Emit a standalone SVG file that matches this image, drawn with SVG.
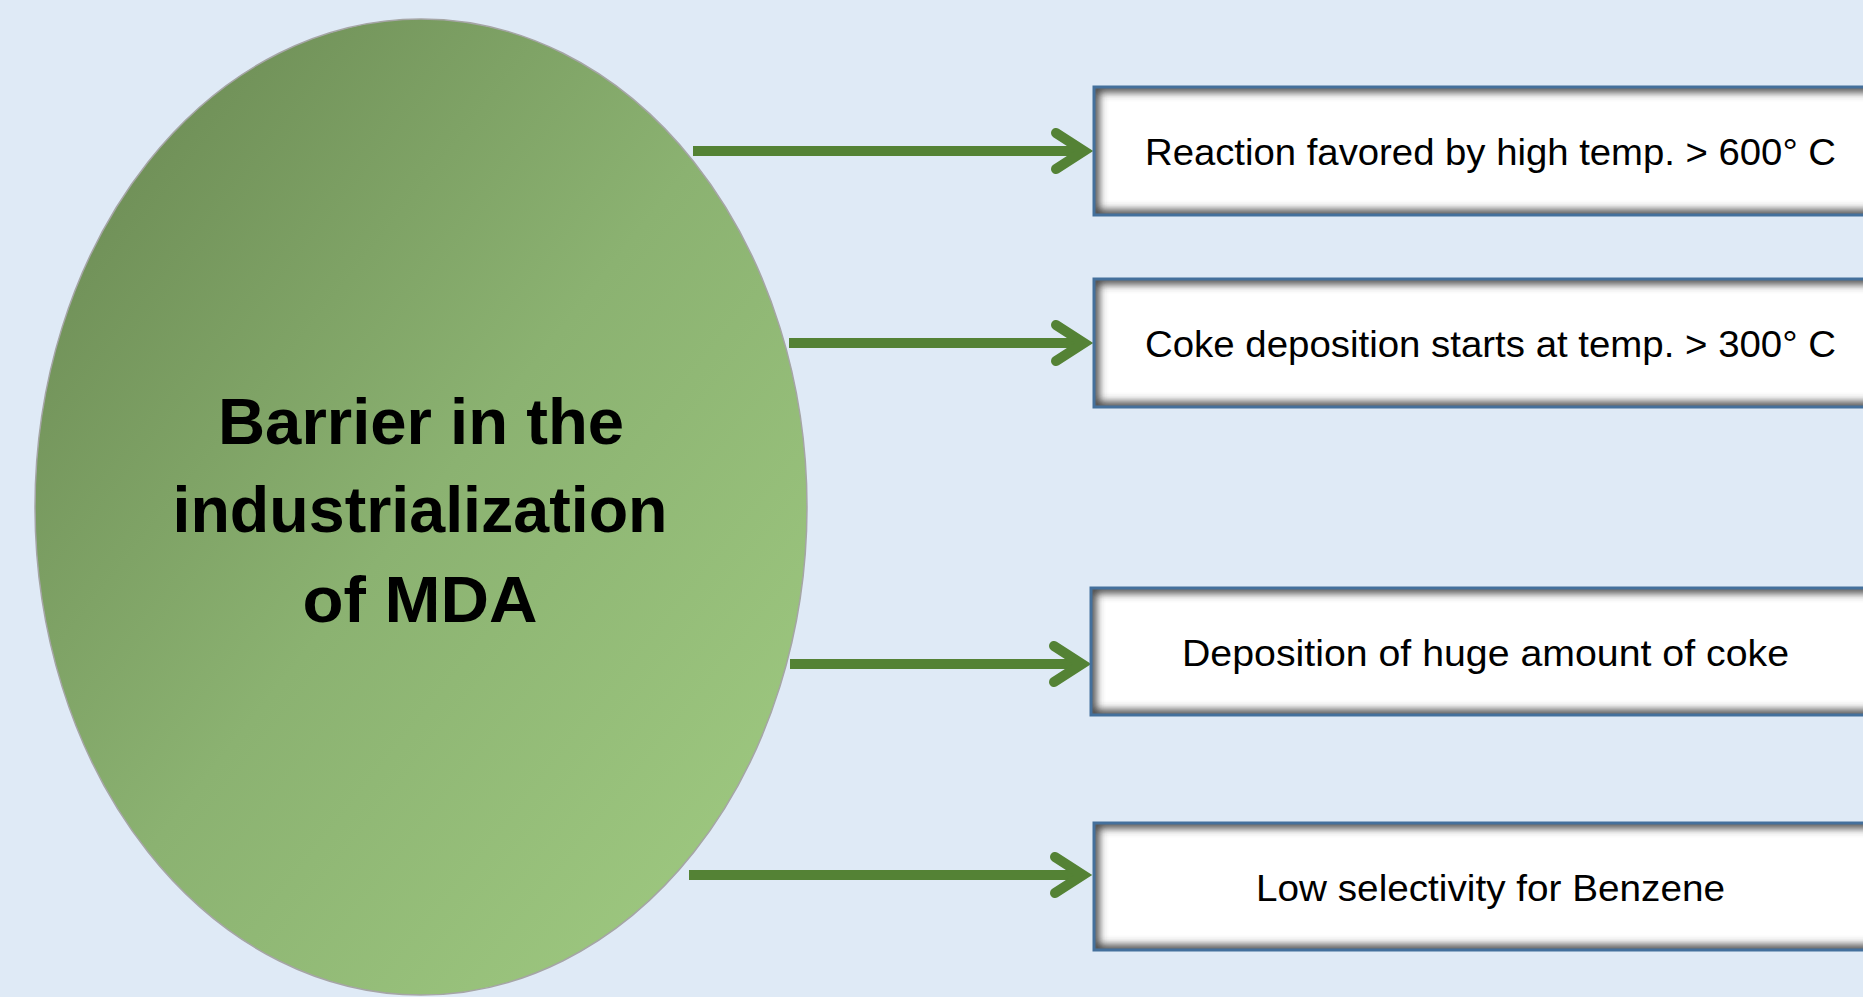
<svg xmlns="http://www.w3.org/2000/svg" width="1863" height="997" viewBox="0 0 1863 997">
<style>
.box{fill:#ffffff}
.shade{fill:none;stroke:#3a3a3a;stroke-width:10;filter:url(#soft);clip-path:url(#cp)}
.edge{fill:none;stroke:#44709c;stroke-width:3}
.lbl{font-family:"Liberation Sans",Arial,sans-serif;font-size:37px;fill:#000;text-anchor:middle}
.title{font-family:"Liberation Sans",Arial,sans-serif;font-size:64px;font-weight:bold;fill:#000;text-anchor:middle}
.conn{fill:none;stroke:#548235;stroke-width:10;stroke-linecap:butt;marker-end:url(#chev)}
</style>
<defs>
<linearGradient id="eg" x1="0" y1="0" x2="1" y2="1">
<stop offset="0" stop-color="#66844f"/>
<stop offset="0.5" stop-color="#8bb271"/>
<stop offset="1" stop-color="#a2cd83"/>
</linearGradient>
<filter id="soft" x="-10%" y="-40%" width="120%" height="180%">
<feGaussianBlur stdDeviation="4"/>
</filter>
<clipPath id="cp" clipPathUnits="objectBoundingBox">
<rect x="0" y="0" width="1" height="1"/>
</clipPath>
<marker id="chev" markerUnits="userSpaceOnUse" viewBox="0 0 40 44" markerWidth="40" markerHeight="44" refX="37" refY="22" orient="auto" overflow="visible">
<path d="M 9 4 L 37 22 L 9 40" fill="none" stroke="#548235" stroke-width="10" stroke-linecap="round" stroke-linejoin="miter"/>
</marker>
</defs>
<rect x="0" y="0" width="1863" height="997" fill="#dfeaf6"/>
<g id="barrier">
<ellipse cx="421" cy="507" rx="386" ry="488" fill="url(#eg)" stroke="#a5a5a5" stroke-width="1.5"/>
<text class="title" x="421" y="444" textLength="406" lengthAdjust="spacingAndGlyphs">Barrier in the</text>
<text class="title" x="420" y="532" textLength="495" lengthAdjust="spacingAndGlyphs">industrialization</text>
<text class="title" x="420" y="622" textLength="235" lengthAdjust="spacingAndGlyphs">of MDA</text>
</g>
<g id="connectors">
<path class="conn" d="M 693 151 L 1084 151"/>
<path class="conn" d="M 789 343 L 1084 343"/>
<path class="conn" d="M 790 664 L 1082 664"/>
<path class="conn" d="M 689 875 L 1083 875"/>
</g>
<g id="n1">
<rect class="box" x="1094" y="87" width="800" height="128"/>
<rect class="shade" x="1094" y="87" width="800" height="128"/>
<rect class="edge" x="1094" y="87" width="800" height="128"/>
<text class="lbl" x="1490.5" y="165" textLength="691" lengthAdjust="spacingAndGlyphs">Reaction favored by high temp. &gt; 600° C</text>
</g>
<g id="n2">
<rect class="box" x="1094" y="279" width="800" height="128"/>
<rect class="shade" x="1094" y="279" width="800" height="128"/>
<rect class="edge" x="1094" y="279" width="800" height="128"/>
<text class="lbl" x="1490.5" y="357" textLength="691" lengthAdjust="spacingAndGlyphs">Coke deposition starts at temp. &gt; 300° C</text>
</g>
<g id="n3">
<rect class="box" x="1091" y="588" width="800" height="127"/>
<rect class="shade" x="1091" y="588" width="800" height="127"/>
<rect class="edge" x="1091" y="588" width="800" height="127"/>
<text class="lbl" x="1485.5" y="666" textLength="607" lengthAdjust="spacingAndGlyphs">Deposition of huge amount of coke</text>
</g>
<g id="n4">
<rect class="box" x="1094" y="823" width="800" height="127"/>
<rect class="shade" x="1094" y="823" width="800" height="127"/>
<rect class="edge" x="1094" y="823" width="800" height="127"/>
<text class="lbl" x="1490.5" y="901" textLength="469" lengthAdjust="spacingAndGlyphs">Low selectivity for Benzene</text>
</g>
</svg>
